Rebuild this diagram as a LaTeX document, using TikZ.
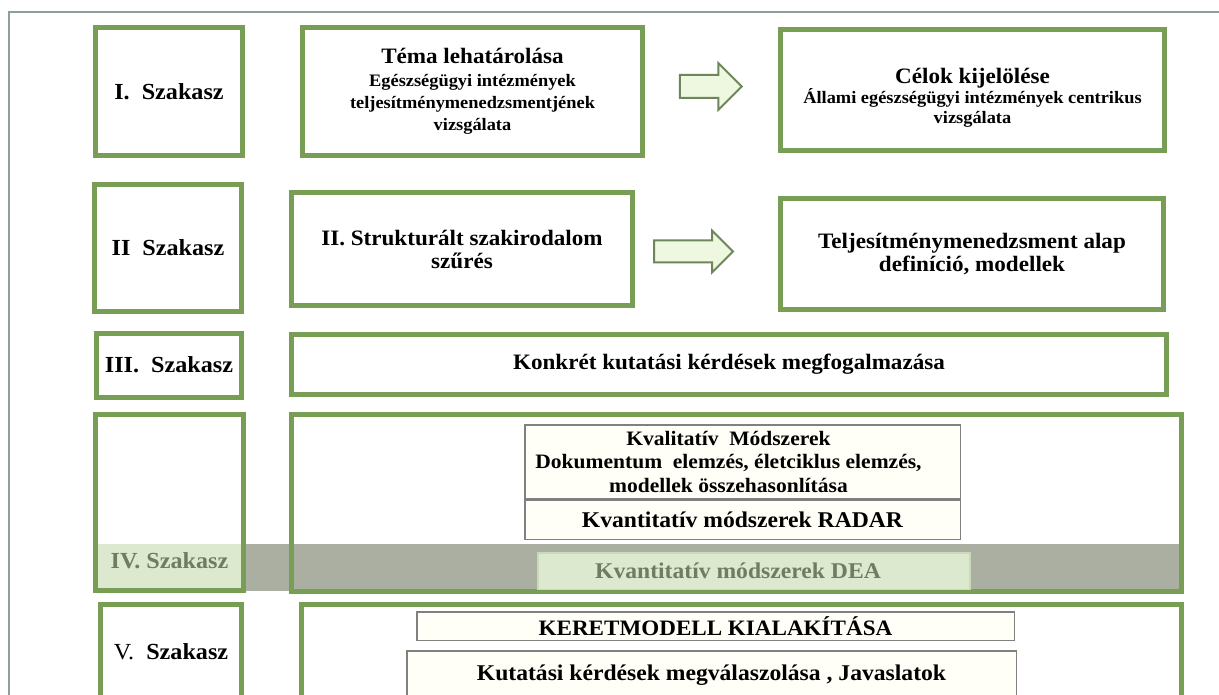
\documentclass[tikz,border=0pt]{standalone}
\usepackage{fontspec}
\setmainfont{Liberation Serif}
\newfontfamily\boxfont[FakeStretch=1.05]{Liberation Serif}
\usetikzlibrary{shapes.arrows,positioning}
\definecolor{stagegreen}{RGB}{119,158,84}
\definecolor{arrowfill}{RGB}{238,247,224}
\definecolor{arrowline}{RGB}{110,135,90}
\definecolor{bandgray}{RGB}{170,175,162}
\definecolor{fadegreen}{RGB}{221,233,207}
\definecolor{fadetext}{RGB}{112,124,98}
\definecolor{framegray}{RGB}{140,160,150}
\definecolor{methodline}{RGB}{128,128,128}
\tikzset{
  stage/.style={draw=stagegreen, line width=5pt, align=center, inner sep=0pt,
    font=\boxfont\bfseries\fontsize{22}{23}\selectfont},
  phase/.style={stage, font=\boxfont\bfseries\fontsize{23}{25}\selectfont},
  method/.style={draw=methodline, line width=1.5pt, fill=yellow!3, align=center, inner sep=0pt,
    font=\boxfont\bfseries\fontsize{22.5}{24}\selectfont},
  blockarrow/.style={single arrow, draw=arrowline, fill=arrowfill, line width=2pt,
    inner xsep=0pt, inner ysep=10.5pt, single arrow head extend=12pt},
}
\begin{document}
\begin{tikzpicture}[x=1pt,y=-1pt]
  \clip (0,0) rectangle (1219,695);
  \fill[white] (0,0) rectangle (1219,695);
  \draw[framegray, line width=1.5pt] (9,700) -- (9,12) -- (1225,12);

  % I. szakasz
  \node[phase, minimum width=147pt, minimum height=128pt] (szak1) at (169,91.5) {I.\ \ Szakasz};
  \node[stage, minimum width=340pt, minimum height=128pt, font=\boxfont\bfseries\fontsize{17.5}{22}\selectfont] (tema) at (472.5,91.5)
    {{\fontsize{22}{24}\selectfont Téma lehatárolása}\\[1pt] Egészségügyi intézmények\\ teljesítménymenedzsmentjének\\ vizsgálata};
  \node[stage, minimum width=384pt, minimum height=121pt,
    label={[anchor=center, yshift=-8pt, align=center, font=\boxfont\bfseries\fontsize{17.5}{20}\selectfont]center:{\fontsize{22}{24}\selectfont Célok kijelölése}\\ Állami egészségügyi intézmények centrikus\\ vizsgálata}] (celok) at (972.5,90) {};
  \node[blockarrow, minimum height=62pt] (nyil1) at (705,86.5) {};

  % II. szakasz
  \node[phase, minimum width=147pt, minimum height=127pt] (szak2) at (168,248) {II\ \ Szakasz};
  \node[stage, minimum width=341pt, minimum height=113pt] (szuro) at (462,249) {II. Strukturált szakirodalom\\ szűrés};
  \node[stage, minimum width=383pt, minimum height=111pt] (alap) at (972,254) {Teljesítménymenedzsment alap\\ definíció, modellek};
  \node[blockarrow, minimum height=79pt, inner ysep=10pt, single arrow head extend=10pt] (nyil2) at (688,251.5) {};

  % III. szakasz
  \node[phase, minimum width=145pt, minimum height=64pt] (szak3) at (169,365) {III.\ \ Szakasz};
  \node[stage, minimum width=875pt, minimum height=60pt] (kerdes) at (729,364.5) {Konkrét kutatási kérdések megfogalmazása};

  % IV. szakasz
  \fill[fadegreen] (96,544) rectangle (243,590);
  \fill[bandgray] (246,544) rectangle (1181,591);
  \node[stage, minimum width=148pt, minimum height=176pt,
    label={[anchor=center, yshift=32pt, text=fadetext, font=\boxfont\bfseries\fontsize{23}{25}\selectfont]south:IV. Szakasz}] (szak4) at (169.5,502.5) {};
  \node[stage, minimum width=890pt, minimum height=177pt] (modsz) at (736.5,503) {};
  \node[method, minimum width=435.5pt, minimum height=73.5pt,
    label={[anchor=center, xshift=-14pt, align=center, font=\boxfont\bfseries\fontsize{20.5}{23.5}\selectfont]center:Kvalitatív\ \ Módszerek\\ Dokumentum\ \ elemzés, életciklus elemzés,\\ modellek összehasonlítása}] (kval) at (742.5,461.5) {};
  \node[method, minimum width=435.5pt, minimum height=39.5pt] (radar) at (742.5,519.5) {Kvantitatív módszerek RADAR};
  \node[method, draw=fadegreen!80!stagegreen, fill=fadegreen, minimum width=432pt, minimum height=36.5pt,
    label={[anchor=center, xshift=-16pt, text=fadetext, font=\boxfont\bfseries\fontsize{22.5}{24}\selectfont]center:Kvantitatív módszerek DEA}] (dea) at (754,571) {};

  % V. szakasz
  \node[phase, minimum width=141pt, minimum height=95pt] (szak5) at (171,652) {{\mdseries V.}\ \ Szakasz};
  \node[stage, minimum width=880pt, minimum height=95pt] (keret) at (741.5,652) {};
  \node[method, minimum width=597.5pt, minimum height=28.5pt, font=\boxfont\bfseries\fontsize{22}{23}\selectfont] (kmodell) at (715.5,626) {KERETMODELL KIALAKÍTÁSA};
  \node[method, minimum width=609.5pt, minimum height=48.5pt] (valasz) at (711.5,675) {Kutatási kérdések megválaszolása , Javaslatok};
\end{tikzpicture}
\end{document}
